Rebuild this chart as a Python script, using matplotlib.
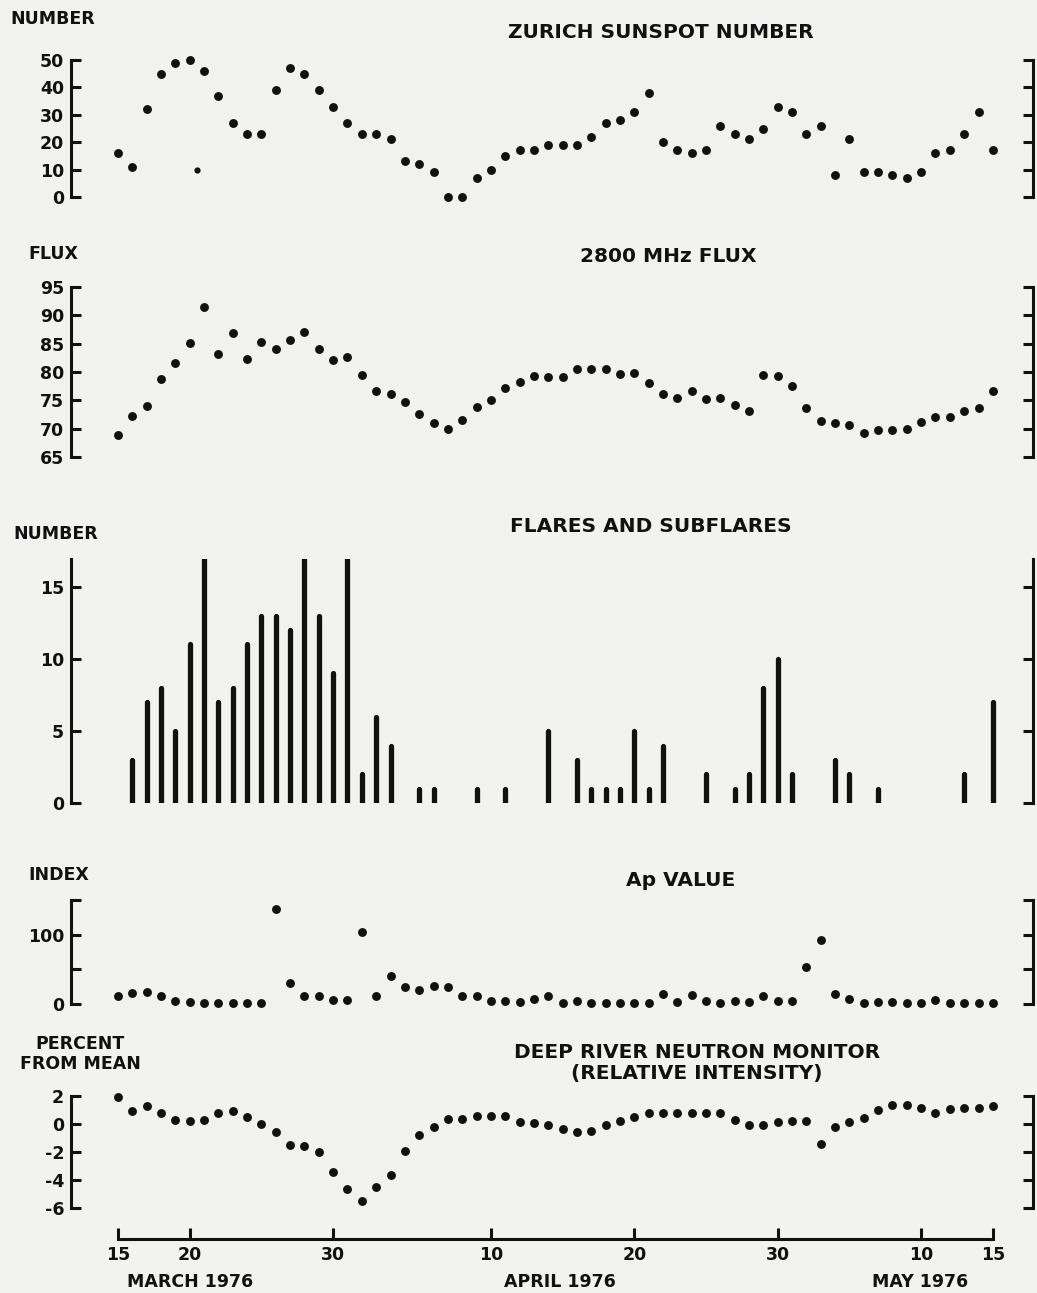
import matplotlib
matplotlib.use("Agg")
import matplotlib.pyplot as plt

W, H = 1037, 1293
INK = "#111111"
BG = "#f2f2f0"

plt.rcParams["font.family"] = ["DejaVu Sans"]
plt.rcParams["font.weight"] = "bold"
plt.rcParams["axes.unicode_minus"] = False

# --- data: one value per day, 15 March (day 0) .. 15 May 1976 (day 61) ---
days = list(range(62))

sunspot = [16, 11, 32, 45, 49, 50, 46, 37, 27, 23,
           23, 39, 47, 45, 39, 33, 27, 23, 23, 21,
           13, 12, 9, 0, 0, 7, 10, 15, 17, 17,
           19, 19, 19, 22, 27, 28, 31, 38, 20, 17,
           16, 17, 26, 23, 21, 25, 33, 31, 23, 26,
           8, 21, 9, 9, 8, 7, 9, 16, 17, 23,
           31, 17]
sunspot_extra_day = [5.5]
sunspot_extra_val = [10]

flux = [69, 72.3, 74.1, 78.8, 81.6, 85.1, 91.5, 83.2, 86.8, 82.3,
        85.2, 84.1, 85.7, 87.1, 84.1, 82.1, 82.7, 79.4, 76.7, 76.1,
        74.7, 72.6, 71, 70, 71.5, 73.9, 75.1, 77.1, 78.2, 79.3,
        79.2, 79.2, 80.5, 80.5, 80.5, 79.6, 79.9, 78, 76.1, 75.4,
        76.6, 75.3, 75.5, 74.2, 73.1, 79.4, 79.3, 77.6, 73.6, 71.3,
        71.1, 70.6, 69.2, 69.8, 69.8, 70, 71.2, 72.1, 72, 73.2,
        73.6, 76.6]

flares = [0, 3, 7, 8, 5, 11, 17, 7, 8, 11,
          13, 13, 12, 17, 13, 9, 17, 2, 6, 4,
          0, 1, 1, 0, 0, 1, 0, 1, 0, 0,
          5, 0, 3, 1, 1, 1, 5, 1, 4, 0,
          0, 2, 0, 1, 2, 8, 10, 2, 0, 0,
          3, 2, 0, 1, 0, 0, 0, 0, 0, 2,
          0, 7]

ap = [11, 16, 17, 11, 5, 3, 2, 2, 2, 2,
      2, 137, 31, 11, 11, 6, 6, 104, 11, 41,
      25, 20, 26, 25, 11, 11, 5, 5, 3, 7,
      11, 2, 4, 2, 2, 2, 2, 2, 14, 3,
      13, 4, 2, 5, 3, 11, 4, 4, 54, 92,
      14, 7, 2, 3, 3, 2, 2, 6, 2, 2,
      2, 2]

neutron = [1.9, 0.9, 1.3, 0.75, 0.3, 0.2, 0.3, 0.8, 0.9, 0.5,
           0.0, -0.6, -1.5, -1.6, -2.0, -3.4, -4.6, -5.5, -4.5, -3.6,
           -1.9, -0.8, -0.2, 0.35, 0.35, 0.55, 0.55, 0.55, 0.15, 0.05,
           -0.05, -0.4, -0.6, -0.5, -0.1, 0.2, 0.5, 0.8, 0.8, 0.8,
           0.8, 0.8, 0.75, 0.3, -0.1, -0.1, 0.1, 0.2, 0.2, -1.4,
           -0.2, 0.15, 0.4, 0.95, 1.35, 1.35, 1.1, 0.75, 1.05, 1.1,
           1.1, 1.3]

date_ticks = [0, 5, 15, 26, 36, 46, 56, 61]
date_labels = ["15", "20", "30", "10", "20", "30", "10", "15"]
month_pos = [5, 30.8, 55.9]
month_names = ["MARCH 1976", "APRIL 1976", "MAY 1976"]

XLIM = (-3.28, 63.8)
LEFT_PX, RIGHT_PX = 71, 1033

fig = plt.figure(figsize=(W / 100, H / 100), dpi=100, facecolor=BG)


def panel(top_px, bottom_px, ylim, yticks, ylabels):
    ax = fig.add_axes([LEFT_PX / W, 1 - bottom_px / H,
                       (RIGHT_PX - LEFT_PX) / W, (bottom_px - top_px) / H])
    ax.set_facecolor("none")
    ax.set_xlim(*XLIM)
    ax.set_ylim(*ylim)
    for s in ("top", "bottom"):
        ax.spines[s].set_visible(False)
    for s in ("left", "right"):
        ax.spines[s].set_linewidth(2.2)
        ax.spines[s].set_color(INK)
    ax.set_xticks([])
    ax.set_yticks(yticks)
    ax.set_yticklabels(ylabels)
    ax.tick_params(axis="y", direction="in", length=7, width=2.2, color=INK,
                   left=True, right=True, labelsize=12.5, pad=5,
                   labelcolor=INK)
    for t in ax.get_yticklabels():
        t.set_fontweight("bold")
    return ax


def dots(ax, x, y, size=6.4):
    ax.plot(x, y, "o", color=INK, markersize=size, markeredgewidth=0,
            clip_on=False)


# 1) Zurich sunspot number
ax1 = panel(60, 197, (0, 50), [0, 10, 20, 30, 40, 50],
            ["0", "10", "20", "30", "40", "50"])
dots(ax1, days, sunspot)
dots(ax1, sunspot_extra_day, sunspot_extra_val, size=4.5)

# 2) 2800 MHz flux
ax2 = panel(286.7, 457.3, (65, 95), [65, 70, 75, 80, 85, 90, 95],
            ["65", "70", "75", "80", "85", "90", "95"])
dots(ax2, days, flux)

# 3) flares and subflares
ax3 = panel(559.3, 803.3, (0, 16.9), [0, 5, 10, 15], ["0", "5", "10", "15"])
fd = [d for d, v in zip(days, flares) if v > 0]
fv = [v for v in flares if v > 0]
ax3.vlines(fd, 0, fv, colors=INK, linewidth=3.8, capstyle="round")

# 4) Ap value
ax4 = panel(900, 1004, (0, 150), [0, 50, 100, 150], ["0", "", "100", ""])
dots(ax4, days, ap)

# 5) Deep River neutron monitor
ax5 = panel(1095.7, 1208.3, (-6, 2), [-6, -4, -2, 0, 2],
            ["-6", "-4", "-2", "0", "2"])
dots(ax5, days, neutron)

# shared time axis at the bottom
axt = fig.add_axes([LEFT_PX / W, 1 - 1239 / H, (RIGHT_PX - LEFT_PX) / W, 0.001])
axt.set_facecolor("none")
axt.set_xlim(*XLIM)
axt.set_yticks([])
for s in ("top", "left", "right"):
    axt.spines[s].set_visible(False)
axt.spines["bottom"].set_bounds(0, 61)
axt.spines["bottom"].set_linewidth(2.2)
axt.spines["bottom"].set_color(INK)
axt.set_xticks(date_ticks)
axt.set_xticklabels(date_labels, fontweight="bold")
axt.tick_params(axis="x", direction="in", length=8, width=2.2, color=INK,
                labelsize=12.5, pad=5, labelcolor=INK)
for x, name in zip(month_pos, month_names):
    axt.annotate(name, (x, 0), xycoords=("data", "axes fraction"),
                 xytext=(0, -31), textcoords="offset points",
                 ha="center", va="center", fontsize=12.5, fontweight="bold",
                 color=INK)


# titles and axis captions
def ftext(x_px, y_px, s, ha="center", size=14.5):
    fig.text(x_px / W, 1 - y_px / H, s, ha=ha, va="center", fontsize=size,
             fontweight="bold", color=INK, linespacing=1.2)


ftext(661, 32, "ZURICH SUNSPOT NUMBER")
ftext(668, 257, "2800 MHz FLUX")
ftext(651, 527, "FLARES AND SUBFLARES")
ftext(681, 881, "Ap VALUE")
ftext(697, 1063, "DEEP RIVER NEUTRON MONITOR\n(RELATIVE INTENSITY)")

ftext(10, 19, "NUMBER", ha="left", size=12.5)
ftext(28, 254, "FLUX", ha="left", size=12.5)
ftext(13, 534, "NUMBER", ha="left", size=12.5)
ftext(28, 875, "INDEX", ha="left", size=12.5)
ftext(80, 1054, "PERCENT\nFROM MEAN", size=12.5)

fig.savefig("out.png", dpi=100, facecolor=BG)
